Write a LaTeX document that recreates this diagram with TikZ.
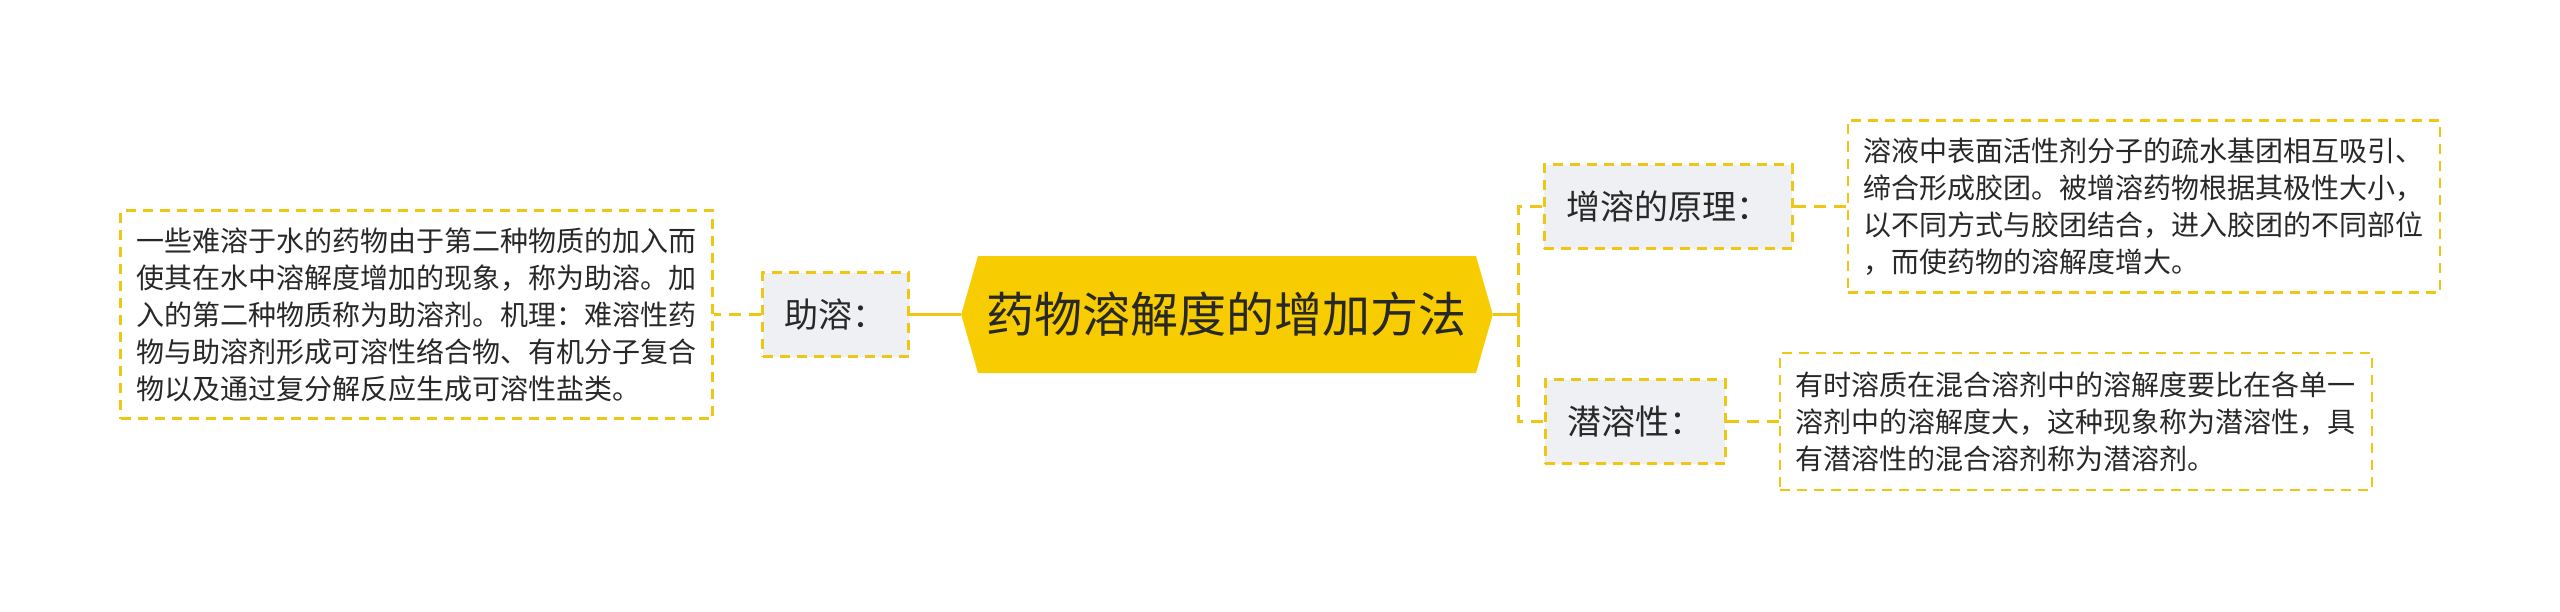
\documentclass[tikz,border=0pt]{standalone}
\usepackage{fontspec}
\setmainfont{Noto Sans CJK SC}
\usepackage{xcolor}
\usepackage{tikz}
\usetikzlibrary{positioning, shapes.symbols}
\definecolor{mapyellow}{RGB}{240, 198, 20}
\definecolor{rootyellow}{RGB}{247, 204, 0}
\definecolor{topicgray}{RGB}{238, 240, 243}
\definecolor{inkgray}{RGB}{40, 40, 40}

\begin{document}
\begin{tikzpicture}[
        root/.style={signal, signal to=west and east, signal pointer angle=148,
                    fill=rootyellow, minimum height=58.5pt, inner xsep=4.5pt,
                    text=inkgray, font=\fontsize{24pt}{28pt}\selectfont},
        topic/.style={draw=mapyellow, dash pattern=on 5pt off 3.5pt, line width=1.2pt,
                    fill=topicgray, minimum height=42pt, inner xsep=11pt,
                    text=inkgray, font=\fontsize{17pt}{20pt}\selectfont},
        detail/.style={draw=mapyellow, dash pattern=on 5pt off 3.5pt, line width=1.2pt,
                    fill=white, minimum width=296pt, inner xsep=8pt, align=left,
                    text=inkgray, font=\fontsize{14pt}{18.5pt}\selectfont},
        link/.style={draw=mapyellow, line width=1.75pt},
        dlink/.style={draw=mapyellow, line width=1.5pt, dash pattern=on 6pt off 4pt}]
        \useasboundingbox (-613.5pt,-148.25pt) rectangle (666.5pt,157.25pt);

        \node[root] (root) {药物溶解度的增加方法};
        \node[topic, left=25.5pt of root] (zhurong) {助溶：};
        \node[detail, minimum height=104pt, left=23.8pt of zhurong] (zhurongtxt)
              {一些难溶于水的药物由于第二种物质的加入而\\
               使其在水中溶解度增加的现象，称为助溶。加\\
               入的第二种物质称为助溶剂。机理：难溶性药\\
               物与助溶剂形成可溶性络合物、有机分子复合\\
               物以及通过复分解反应生成可溶性盐类。};
        \node[topic, right=25pt of root, yshift=54pt] (zengrong) {增溶的原理：};
        \node[topic, right=25.5pt of root, yshift=-53.5pt] (qianrong) {潜溶性：};
        \node[detail, minimum height=86pt, right=26.5pt of zengrong] (zengrongtxt)
              {溶液中表面活性剂分子的疏水基团相互吸引、\\
               缔合形成胶团。被增溶药物根据其极性大小，\\
               以不同方式与胶团结合，进入胶团的不同部位\\
               ，而使药物的溶解度增大。};
        \node[detail, minimum height=68.5pt, right=26pt of qianrong] (qianrongtxt)
              {有时溶质在混合溶剂中的溶解度要比在各单一\\
               溶剂中的溶解度大，这种现象称为潜溶性，具\\
               有潜溶性的混合溶剂称为潜溶剂。};
        \coordinate[right=12.5pt of root.east] (trunk);

        \draw[link] (root.west) -- (zhurong.east);
        \draw[dlink] (zhurong.west) -- (zhurongtxt.east);
        \draw[link] (root.east) -- (trunk);
        \draw[dlink] (trunk) |- (zengrong.west);
        \draw[dlink] (trunk) |- (qianrong.west);
        \draw[dlink] (zengrong.east) -- (zengrongtxt.west);
        \draw[dlink] (qianrong.east) -- (qianrongtxt.west);
    \end{tikzpicture}
\end{document}
